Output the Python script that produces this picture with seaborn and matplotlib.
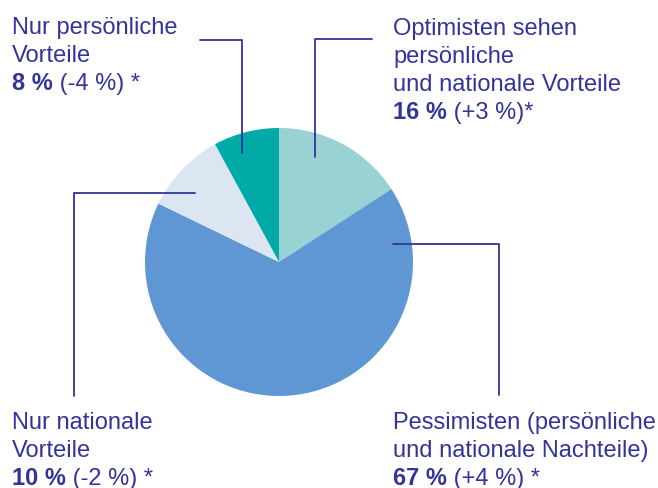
import matplotlib
matplotlib.use("Agg")
import matplotlib.pyplot as plt
import matplotlib.transforms as mtransforms
from matplotlib.lines import Line2D
import seaborn as sns

# values, clockwise from 12 o'clock
groups = ["Optimisten", "Pessimisten", "Nur nationale", "Nur persönliche"]
shares = [16, 67, 10, 8]
changes = ["(+3 %)*", "(+4 %) *", "(-2 %) *", "(-4 %) *"]
label_lines = [
    ["Optimisten sehen", "persönliche", "und nationale Vorteile"],
    ["Pessimisten (persönliche", "und nationale Nachteile)"],
    ["Nur nationale", "Vorteile"],
    ["Nur persönliche", "Vorteile"],
]
colors = ["#98d2d2", "#5f97d4", "#dce6f2", "#00aaa6"]

navy = "#32349a"
W, H = 658, 489

sns.set_theme(style="white")
plt.rcParams["font.family"] = ["Liberation Sans", "DejaVu Sans"]

fig = plt.figure(figsize=(W / 100, H / 100), dpi=100)
fig.patch.set_facecolor("white")

# pie axes: centre (279, 263) px from top, radius 134 px
cx, cy, r = 279, 263, 134
ax = fig.add_axes([(cx - r) / W, (H - cy - r) / H, 2 * r / W, 2 * r / H])
ax.pie(shares, colors=colors, startangle=90, counterclock=False,
       wedgeprops=dict(linewidth=0))
ax.set_xlim(-1, 1)
ax.set_ylim(-1, 1)
ax.axis("off")

# pixel coords from top-left
px = mtransforms.Affine2D().scale(1 / W, -1 / H).translate(0, 1) + fig.transFigure

# leader lines
leaders = [
    [(372, 40), (315, 40), (315, 158)],
    [(393, 245), (499, 245), (499, 396)],
    [(195, 194), (74, 194), (74, 397)],
    [(200, 41), (242, 41), (242, 154)],
]
for pts in leaders:
    xs, ys = zip(*pts)
    fig.add_artist(Line2D(xs, ys, transform=px, color=navy, lw=1.3))

# label blocks: left x and first baseline
anchors = [(393, 35), (393, 429), (12, 429), (12, 34)]
fs = 17
step = 28
for lines, share, chg, (x0, y0) in zip(label_lines, shares, changes, anchors):
    for i, ln in enumerate(lines):
        fig.text(x0, y0 + i * step, ln, transform=px, fontsize=fs,
                 color=navy, va="baseline", ha="left")
    yb = y0 + len(lines) * step
    t = fig.text(x0, yb, f"{share} %", transform=px, fontsize=fs,
                 color=navy, va="baseline", ha="left", fontweight="bold")
    fig.add_artist(plt.Annotation(" " + chg, xy=(1, 0), xycoords=t,
                                  fontsize=fs, color=navy,
                                  va="bottom", ha="left"))

fig.savefig("out.png", dpi=100, facecolor="white")
